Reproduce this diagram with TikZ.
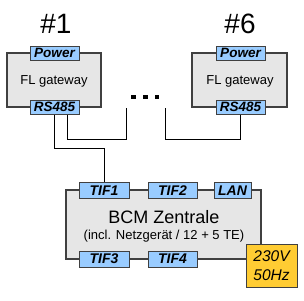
\documentclass[tikz,border=0pt]{standalone}
\usepackage{fontspec}
\setmainfont{Liberation Sans}
\definecolor{boxgray}{RGB}{230,230,230}
\definecolor{edge}{RGB}{64,64,64}
\definecolor{tabblue}{RGB}{153,204,255}
\definecolor{gold}{RGB}{255,204,51}
\begin{document}
\begin{tikzpicture}[x=1pt,y=-1pt,
  unitbox/.style={draw=edge,line width=1.2pt,fill=boxgray,inner sep=0pt},
  gtab/.style={draw=edge,line width=1pt,fill=tabblue,inner sep=0pt,minimum width=49pt,minimum height=14pt,font=\fontsize{13.5}{13.5}\selectfont\bfseries\itshape},
  btab/.style={draw=edge,line width=1pt,fill=tabblue,inner sep=0pt,minimum height=16pt,font=\fontsize{14}{14}\selectfont\bfseries\itshape},
  wire/.style={draw=black,line width=0.9pt},
  bigtxt/.style={font=\fontsize{28}{28}\selectfont},
  dot/.style={fill=black,inner sep=0pt,minimum size=4.5pt}]
\useasboundingbox (0,0) rectangle (304,300);
% gateway boxes
\node[unitbox,minimum width=94pt,minimum height=54pt] (gw1) at (54,80) {};
\node[unitbox,minimum width=95pt,minimum height=54pt] (gw6) at (239.5,80) {};
\node[font=\fontsize{13}{13}\selectfont] (gw1t) at (54,81) {FL gateway};
\node[font=\fontsize{13}{13}\selectfont] (gw6t) at (240,81) {FL gateway};
\node[gtab] (p1) at (54.5,53) {Power};
\node[gtab] (r1) at (54.5,107) {RS485};
\node[gtab] (p6) at (240.5,53) {Power};
\node[gtab] (r6) at (240.5,107) {RS485};
\node[bigtxt] (h1) at (56,24) {\#1};
\node[bigtxt] (h6) at (240,24) {\#6};
% dots
\node[dot] (d1) at (133.5,97) {};
\node[dot] (d2) at (145.5,97) {};
\node[dot] (d3) at (157,97) {};
% BCM
\node[unitbox,minimum width=195pt,minimum height=69pt] (bcm) at (163.5,224.5) {};
\node[font=\fontsize{18}{18}\selectfont] (bcmt) at (164,217) {BCM Zentrale};
\node[font=\fontsize{13}{13}\selectfont] (bcms) at (164,236) {(incl. Netzgerät / 12 + 5 TE)};
\node[btab,minimum width=50pt] (tif1) at (104,190.5) {TIF1};
\node[btab,minimum width=49pt] (tif2) at (172.5,190.5) {TIF2};
\node[btab,minimum width=37pt] (lan) at (232.5,190.5) {LAN};
\node[btab,minimum width=50pt] (tif3) at (104,259) {TIF3};
\node[btab,minimum width=49pt] (tif4) at (172.5,259) {TIF4};
\node[draw=edge,line width=1pt,fill=gold,minimum width=51pt,minimum height=43pt,inner sep=0pt,align=center,font=\fontsize{15.5}{19}\selectfont\itshape] (pwr) at (271.5,265.5) {230V\\50Hz};
% wires
\coordinate (e2) at (126,108);
\coordinate (e3) at (165,108);
\draw[wire] (r1.south) -- ++(0,34) -| (tif1.north);
\draw[wire] ([xshift=12.5pt]r1.south) |- (126,139) -- (e2);
\draw[wire] (r6.south) |- (165,139) -- (e3);
\end{tikzpicture}
\end{document}
